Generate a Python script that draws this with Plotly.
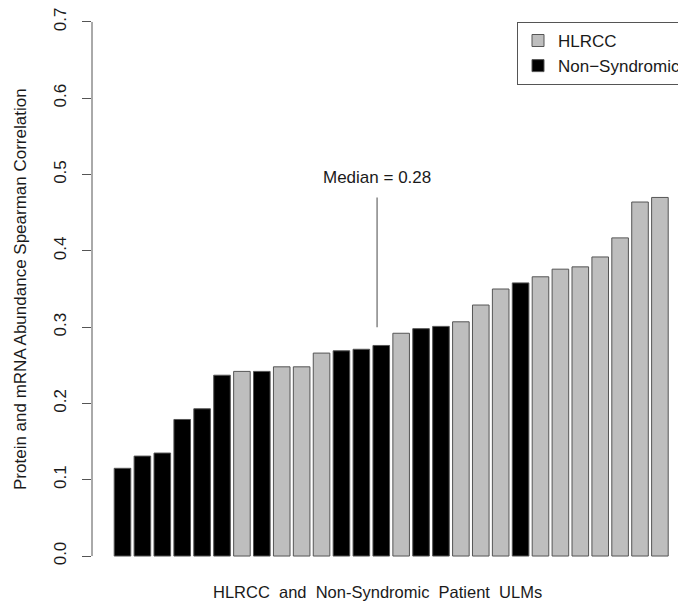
import numpy as np
import plotly.graph_objects as go

# ---- data ----
values = [0.115, 0.131, 0.135, 0.179, 0.193, 0.237, 0.242, 0.242, 0.248, 0.248,
          0.266, 0.269, 0.271, 0.276, 0.292, 0.298, 0.301, 0.307, 0.329, 0.350,
          0.358, 0.366, 0.376, 0.379, 0.392, 0.417, 0.464, 0.470]
groups = ["N", "N", "N", "N", "N", "N", "H", "N", "H", "H",
          "H", "N", "N", "N", "H", "N", "N", "H", "H", "H",
          "N", "H", "H", "H", "H", "H", "H", "H"]
series_names = {"H": "HLRCC", "N": "Non\u2212Syndromic"}
series_colors = {"H": "#BEBEBE", "N": "#000000"}
y_ticks = [0.0, 0.1, 0.2, 0.3, 0.4, 0.5, 0.6, 0.7]
y_ticklabels = ["0.0", "0.1", "0.2", "0.3", "0.4", "0.5", "0.6", "0.7"]
x_title = "HLRCC  and  Non-Syndromic  Patient  ULMs"
y_title = "Protein and mRNA Abundance Spearman Correlation"

FONT = "Liberation Sans, Arial, Helvetica, sans-serif"
TXT = "#1a1a1a"
AX = "#555555"

idx = np.arange(len(values))
vals = np.array(values)
grp = np.array(groups)

fig = go.Figure()
for key in ["H", "N"]:
    m = grp == key
    fig.add_trace(go.Bar(
        x=idx[m], y=vals[m], name=series_names[key],
        marker=dict(color=series_colors[key], line=dict(color="#555555", width=1)),
        width=5/6,
    ))

median = float(np.median(vals))
mx = 12.79
fig.add_shape(type="line", xref="x", yref="y", x0=mx, x1=mx, y0=0.300, y1=0.470,
              line=dict(color="#666666", width=1.2))
fig.add_annotation(x=mx, y=0.4963, xref="x", yref="y", text=f"Median = {median:.2f}",
                   showarrow=False, font=dict(family=FONT, size=17, color=TXT),
                   xanchor="center", yanchor="middle")

# y axis line spanning only 0 .. 0.7
fig.add_shape(type="line", xref="paper", yref="y", x0=0, x1=0, y0=y_ticks[0], y1=y_ticks[-1],
              line=dict(color=AX, width=1))

fig.add_annotation(xref="paper", yref="y", x=0, y=0.35, xshift=-72, text=y_title,
                   textangle=-90, showarrow=False, xanchor="center", yanchor="middle",
                   font=dict(family=FONT, size=17, color=TXT))
fig.add_annotation(xref="paper", yref="paper", x=(378 - 92) / 594, y=0, yshift=-26,
                   text=x_title, showarrow=False, xanchor="center", yanchor="middle",
                   font=dict(family=FONT, size=16.5, color=TXT))

fig.update_layout(
    width=678, height=598,
    margin=dict(l=84, r=0, t=2, b=40),
    paper_bgcolor="white", plot_bgcolor="white",
    barmode="overlay",
    showlegend=True,
    legend=dict(x=(518.5 - 92) / 594, y=1 - 10 / 556, xanchor="left", yanchor="top",
                bordercolor=AX, borderwidth=1, bgcolor="white",
                font=dict(family=FONT, size=17, color=TXT),
                itemclick=False, tracegroupgap=0),
    xaxis=dict(range=[-1.532, 28.21], visible=False, fixedrange=True),
    yaxis=dict(range=[-10 / 765.7, 0.7 + 10 / 765.7], tickmode="array",
               tickvals=y_ticks, ticktext=y_ticklabels, ticks="outside", ticklen=9.5,
               tickcolor=AX, tickwidth=1, tickangle=-90, showgrid=False, zeroline=False,
               showline=False, ticklabelstandoff=9, ticklabeloverflow="allow",
               tickfont=dict(family=FONT, size=17, color=TXT)),
    font=dict(family=FONT, size=17, color=TXT),
)

fig.write_html("out.html")
